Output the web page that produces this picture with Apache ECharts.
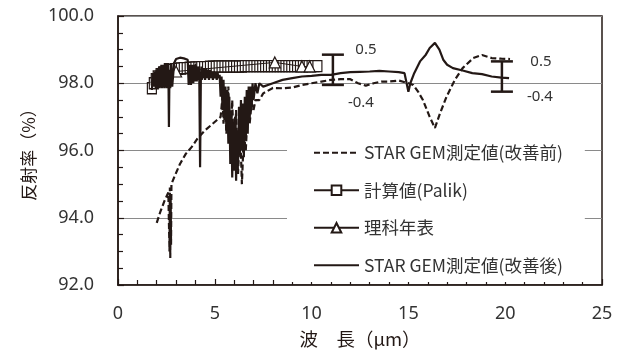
<!DOCTYPE html>
<html>
<head>
<meta charset="utf-8">
<script src="https://cdn.jsdelivr.net/npm/echarts@6/dist/echarts.min.js"></script>
<style>
  html, body { margin: 0; padding: 0; background: #fff; }
  #chart { width: 623px; height: 356px; }
</style>
</head>
<body>
<div id="chart"></div>
<script>
// Reflectance spectra (wavelength in µm, reflectance in %)

// STAR GEM measured, before improvement (dashed)
const wlBefore = [2.0, 2.2, 2.4, 2.6, 2.66, 2.68, 2.70, 2.72, 2.74, 2.76, 2.9, 3.2, 3.5, 3.8, 4.1, 4.25, 4.5, 4.8, 5.1, 5.3,
  5.4, 5.45, 5.5, 5.6, 5.7, 5.8, 5.9, 6.0, 6.1, 6.2, 6.3, 6.4, 6.46, 6.5, 6.6, 6.7, 6.8, 6.9, 7.0, 7.1, 7.3, 7.5,
  8.0, 8.5, 9.0, 9.5, 10.0, 10.5, 11.0, 11.5, 12.0, 12.4, 12.8, 13.2, 13.6, 14.0, 14.5, 15.0, 15.25, 15.5, 15.75,
  16.1, 16.37, 16.63, 16.97, 17.4, 17.8, 18.35, 18.8, 19.3, 19.8, 20.25];
const rBefore = [93.85, 94.2, 94.5, 94.75, 93.0, 94.9, 92.8, 94.6, 93.2, 95.0, 95.2, 95.6, 95.9, 96.1, 96.35, 96.45, 96.6, 96.75, 96.9, 97.0,
  97.6, 96.8, 97.8, 96.5, 97.9, 96.0, 97.5, 95.6, 97.2, 95.3, 96.8, 95.0, 95.0, 96.5, 96.0, 97.2, 96.8, 97.4, 97.2, 97.5, 97.5, 97.7,
  97.86, 97.85, 97.87, 97.95, 98.0, 98.05, 98.1, 98.12, 98.12, 98.0, 97.93, 98.0, 98.05, 98.05, 98.08, 98.0, 97.95, 97.75, 97.5,
  97.0, 96.67, 97.1, 97.6, 98.1, 98.45, 98.75, 98.84, 98.75, 98.73, 98.72];

// Calculated (Palik)
const wlPalik = [1.75, 1.85, 1.95, 2.05, 2.2, 2.35, 2.5, 2.65, 2.8, 2.95, 3.1, 3.25, 3.4, 3.55, 3.7, 3.85, 4.0, 4.15, 4.3, 4.45,
  4.6, 4.75, 4.9, 5.05, 5.2, 5.35, 5.5, 5.65, 5.8, 5.95, 6.1, 6.25, 6.4, 6.55, 6.7, 6.85, 7.0, 7.15, 7.3, 7.45, 7.6,
  7.75, 7.9, 8.05, 8.2, 8.35, 8.5, 8.65, 8.8, 8.95, 9.1, 9.25, 9.4, 9.55, 9.7, 9.85, 10.0, 10.15, 10.3];
const rPalik = [97.85, 98.0, 98.12, 98.2, 98.27, 98.32, 98.35, 98.38, 98.4, 98.42, 98.43, 98.44, 98.45, 98.45, 98.46, 98.46, 98.47, 98.47, 98.48, 98.48,
  98.48, 98.49, 98.49, 98.49, 98.5, 98.5, 98.5, 98.5, 98.5, 98.5, 98.5, 98.5, 98.5, 98.51, 98.51, 98.51, 98.51, 98.51, 98.51, 98.51, 98.51,
  98.51, 98.51, 98.51, 98.51, 98.51, 98.51, 98.51, 98.51, 98.51, 98.51, 98.51, 98.51, 98.51, 98.51, 98.51, 98.51, 98.51, 98.51];

// Chronological Scientific Tables (理科年表)
const wlTable = [2.0, 2.5, 3.0, 4.0, 8.1, 9.5, 9.9];
const rTable = [98.2, 98.3, 98.35, 98.4, 98.62, 98.5, 98.5];

// STAR GEM measured, after improvement (solid)
const wlAfter = [1.75, 1.8, 1.85, 1.9, 1.95, 2.0, 2.03, 2.06, 2.09, 2.12, 2.15, 2.18, 2.21, 2.24, 2.27, 2.3, 2.33, 2.36, 2.39, 2.42,
  2.45, 2.48, 2.51, 2.54, 2.57, 2.6, 2.63, 2.66, 2.7, 2.75, 2.8, 2.9, 3.0, 3.2, 3.4, 3.6, 3.65, 3.68, 3.71, 3.74, 3.77,
  3.8, 3.83, 3.86, 3.89, 3.92, 3.95, 3.98, 4.01, 4.04, 4.07, 4.1, 4.13, 4.16, 4.2, 4.24, 4.28, 4.31, 4.34, 4.37, 4.4,
  4.45, 4.5, 4.55, 4.6, 4.65, 4.7, 4.75, 4.8, 4.85, 4.9, 4.95, 5.0, 5.05, 5.1, 5.15, 5.2, 5.25, 5.3, 5.35, 5.4, 5.45,
  5.5, 5.55, 5.6, 5.65, 5.7, 5.75, 5.8, 5.85, 5.9, 5.95, 6.0, 6.05, 6.1, 6.15, 6.2, 6.25, 6.3, 6.35, 6.4, 6.45, 6.5,
  6.55, 6.6, 6.65, 6.7, 6.75, 6.8, 6.85, 6.9, 6.95, 7.0, 7.1, 7.2, 7.3, 7.5, 8.0, 8.5, 9.0, 9.5, 10.0, 10.5, 11.0,
  11.5, 12.0, 12.5, 13.0, 13.5, 14.0, 14.5, 14.8, 15.0, 15.1, 15.3, 15.6, 15.9, 16.1, 16.37, 16.6, 16.8, 17.0, 17.3,
  17.8, 18.3, 18.8, 19.3, 19.8, 20.2];
const rAfter = [97.8, 98.3, 97.9, 98.35, 97.85, 98.4, 97.85, 98.45, 97.9, 98.5, 97.85, 98.5, 97.9, 98.55, 97.85, 98.55, 97.9, 98.55, 97.85, 98.6,
  97.9, 98.6, 97.85, 98.6, 97.9, 98.6, 96.7, 98.4, 97.85, 98.6, 97.9, 98.6, 98.72, 98.76, 98.74, 98.7, 97.95, 98.55, 98.0, 98.55, 97.95,
  98.55, 98.0, 98.55, 98.0, 98.55, 98.05, 98.55, 98.05, 98.5, 98.05, 98.5, 98.1, 98.5, 98.1, 95.5, 98.15, 98.5, 98.1, 98.45, 98.15,
  98.45, 98.1, 98.45, 98.15, 98.4, 98.1, 98.4, 98.15, 98.35, 98.1, 98.35, 98.15, 98.3, 98.1, 98.3, 98.15, 98.25, 97.6, 98.2, 97.2, 98.1,
  96.9, 97.9, 96.6, 97.8, 96.2, 97.6, 95.6, 97.2, 95.2, 96.8, 95.4, 97.0, 95.1, 96.6, 95.6, 97.3, 95.9, 97.5, 96.0, 97.4, 95.8,
  97.6, 96.3, 97.8, 96.5, 97.9, 96.9, 97.9, 97.2, 98.0, 97.5, 98.0, 97.7, 98.0, 97.9, 98.0, 98.1, 98.15, 98.2, 98.22, 98.25, 98.25,
  98.3, 98.33, 98.34, 98.35, 98.37, 98.35, 98.33, 98.3, 97.75, 98.0, 98.3, 98.65, 98.85, 99.05, 99.2, 99.0, 98.7, 98.55, 98.45,
  98.38, 98.3, 98.27, 98.2, 98.17, 98.15];

// Error bars: position, centre, +/- spread
const errX = [11.1, 19.83];
const errCenter = [98.35, 98.15];
const errPlus = [0.5, 0.5];
const errMinus = [0.4, 0.4];

// Tick labels
const yTicks = [92, 94, 96, 98, 100];
const xTicks = [0, 5, 10, 15, 20, 25];

const seriesNames = ['STAR GEM測定値(改善前)', '計算値(Palik)', '理科年表', 'STAR GEM測定値(改善後)'];

const ink = '#231815';
const font = '"Noto Sans", "Noto Sans CJK JP", sans-serif';
const cjkFont = '"Noto Sans CJK JP", sans-serif';
const zip = (xs, ys) => xs.map((x, i) => [x, ys[i]]);

// label offsets (px) for the error-bar annotations: [plusDx, plusDy, minusDx, minusDy]
const errLabelOffsets = [[33, -5, 28, 18], [39, 0, 38, 5]];

const hiddenMarker = { opacity: 0 };

const chart = echarts.init(document.getElementById('chart'), null, { renderer: 'canvas' });

chart.setOption({
  animation: false,
  backgroundColor: '#fff',
  textStyle: { fontFamily: font },
  grid: {
    left: 118, right: 21, top: 16, bottom: 71,
    show: true, borderColor: ink, borderWidth: 1.5, backgroundColor: 'transparent'
  },
  xAxis: {
    type: 'value', min: xTicks[0], max: xTicks[xTicks.length - 1], interval: 5,
    name: '波　長（µm）', nameLocation: 'middle', nameGap: 45,
    nameTextStyle: { fontSize: 18.5, color: ink, fontFamily: cjkFont },
    axisLine: { show: true, lineStyle: { color: ink, width: 1.5 } },
    axisTick: { show: true, inside: true, length: 6, lineStyle: { color: ink, width: 1.2 } },
    minorTick: { show: true, splitNumber: 5, length: 5, lineStyle: { color: ink, width: 1.2 } },
    axisLabel: { fontSize: 18, color: '#333', margin: 20, fontFamily: font,
      formatter: v => xTicks.includes(v) ? String(v) : '' },
    splitLine: { show: false }
  },
  yAxis: {
    type: 'value', min: yTicks[0], max: yTicks[yTicks.length - 1], interval: 2,
    name: '反射率（%）', nameLocation: 'middle', nameGap: 81, nameRotate: 90,
    nameTextStyle: { fontSize: 17, color: ink, fontFamily: cjkFont },
    axisLine: { show: true, lineStyle: { color: ink, width: 1.5 } },
    axisTick: { show: true, inside: true, length: 6, lineStyle: { color: ink, width: 1.2 } },
    minorTick: { show: true, splitNumber: 4, length: 5, lineStyle: { color: ink, width: 1.2 } },
    axisLabel: { fontSize: 18, color: '#333', margin: 24, fontFamily: font,
      formatter: v => yTicks.includes(v) ? v.toFixed(1) : '' },
    splitLine: { show: true, lineStyle: { color: '#8a8a8a', width: 1 } }
  },
  legend: {
    orient: 'vertical', left: 287, top: 136,
    backgroundColor: '#fff', padding: [8, 22, 8, 26],
    itemWidth: 45, itemHeight: 12, itemGap: 20,
    textStyle: { fontSize: 17.5, lineHeight: 17, color: '#333', fontFamily: cjkFont },
    data: [
      { name: seriesNames[0], itemStyle: hiddenMarker },
      { name: seriesNames[1] },
      { name: seriesNames[2] },
      { name: seriesNames[3], itemStyle: hiddenMarker }
    ]
  },
  series: [
    {
      name: seriesNames[0], type: 'line', data: zip(wlBefore, rBefore),
      showSymbol: false, z: 3,
      lineStyle: { color: ink, width: 2.2, type: [6, 3] },
      itemStyle: { color: ink }
    },
    {
      name: seriesNames[1], type: 'line', data: zip(wlPalik, rPalik),
      symbol: 'rect', symbolSize: [9, 11], z: 4,
      lineStyle: { color: ink, width: 1.5 },
      itemStyle: { color: '#fff', borderColor: ink, borderWidth: 1.3 }
    },
    {
      name: seriesNames[2], type: 'line', data: zip(wlTable, rTable),
      symbol: 'triangle', symbolSize: 11, z: 5,
      lineStyle: { color: ink, width: 1 },
      itemStyle: { color: '#fff', borderColor: ink, borderWidth: 1.2 }
    },
    {
      name: seriesNames[3], type: 'line', data: zip(wlAfter, rAfter),
      showSymbol: false, z: 6,
      lineStyle: { color: ink, width: 2.2 },
      itemStyle: { color: ink }
    },
    {
      name: 'errorbars', type: 'custom', z: 7,
      data: errX.map((x, i) => [x, errCenter[i], errPlus[i], errMinus[i]]),
      renderItem: (params, api) => {
        const x = api.value(0), c = api.value(1), p = api.value(2), m = api.value(3);
        const top = api.coord([x, c + p]);
        const bot = api.coord([x, c - m]);
        const half = 11;
        const off = errLabelOffsets[params.dataIndex];
        const ls = { stroke: ink, lineWidth: 2.5 };
        return {
          type: 'group',
          children: [
            { type: 'line', shape: { x1: top[0], y1: top[1], x2: bot[0], y2: bot[1] }, style: ls },
            { type: 'line', shape: { x1: top[0] - half, y1: top[1], x2: top[0] + half, y2: top[1] }, style: ls },
            { type: 'line', shape: { x1: bot[0] - half, y1: bot[1], x2: bot[0] + half, y2: bot[1] }, style: ls },
            { type: 'text', x: top[0] + off[0], y: top[1] + off[1],
              style: { text: p.toFixed(1), fill: '#333', font: '15px ' + font, align: 'center', verticalAlign: 'middle' } },
            { type: 'text', x: bot[0] + off[2], y: bot[1] + off[3],
              style: { text: '-' + m.toFixed(1), fill: '#333', font: '15px ' + font, align: 'center', verticalAlign: 'middle' } }
          ]
        };
      }
    }
  ]
});
</script>
</body>
</html>
